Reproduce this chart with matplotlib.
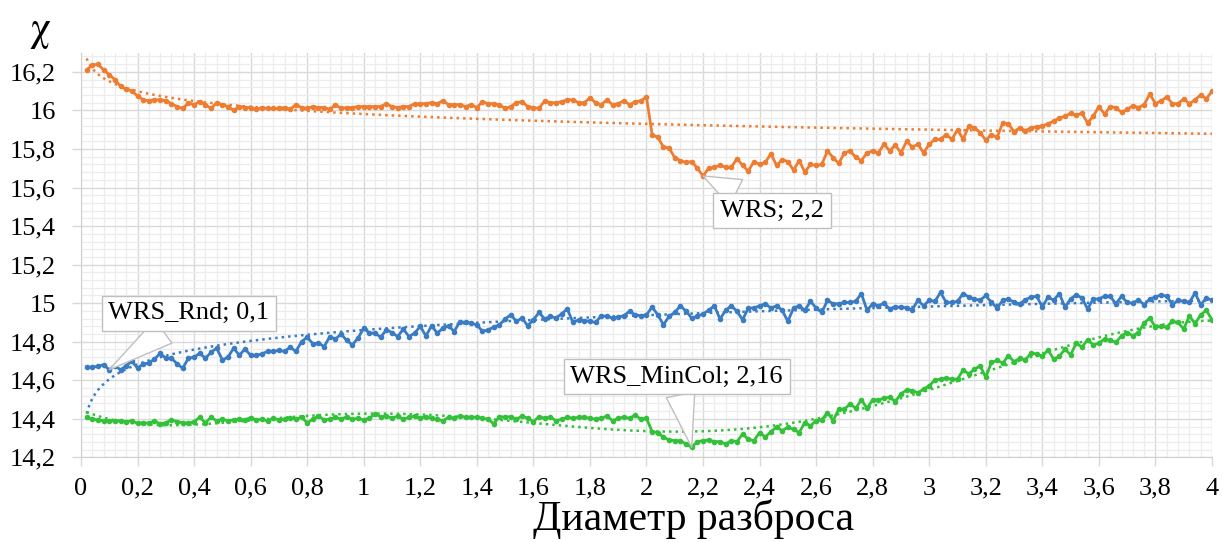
import numpy as np
import matplotlib
matplotlib.use("Agg")
import matplotlib.pyplot as plt
from matplotlib.ticker import MultipleLocator, FixedLocator
from matplotlib import font_manager

# ---------------- data ----------------
x_vals = [round(0.02 * i, 2) for i in range(1, 201)]

wrs = [
    16.21, 16.235, 16.24, 16.21, 16.185, 16.16, 16.125, 16.11, 16.10, 16.075,
    16.055, 16.05, 16.055, 16.055, 16.05, 16.035, 16.02, 16.01, 16.04, 16.03,
    16.045, 16.03, 16.01, 16.04, 16.03, 16.02, 16.0, 16.02, 16.015, 16.015,
    16.005, 16.015, 16.01, 16.01, 16.01, 16.015, 16.005, 16.03, 16.015, 16.01,
    16.02, 16.015, 16.015, 16.005, 16.03, 16.01, 16.015, 16.015, 16.02, 16.02,
    16.02, 16.02, 16.02, 16.035, 16.02, 16.015, 16.02, 16.02, 16.035, 16.035,
    16.035, 16.04, 16.035, 16.05, 16.03, 16.03, 16.03, 16.02, 16.03, 16.015,
    16.045, 16.035, 16.035, 16.03, 16.01, 16.02, 16.04, 16.045, 16.02, 16.015,
    16.01, 16.05, 16.04, 16.04, 16.045, 16.055, 16.055, 16.04, 16.04, 16.065,
    16.04, 16.03, 16.055, 16.03, 16.035, 16.05, 16.03, 16.045, 16.05, 16.07,
    15.875, 15.86, 15.81, 15.805, 15.755, 15.74, 15.73, 15.735, 15.70, 15.66,
    15.70, 15.705, 15.715, 15.705, 15.705, 15.75, 15.715, 15.685, 15.735, 15.72,
    15.73, 15.775, 15.715, 15.745, 15.735, 15.69, 15.74, 15.68, 15.72, 15.715,
    15.72, 15.79, 15.755, 15.725, 15.78, 15.79, 15.757, 15.74, 15.78, 15.79,
    15.78, 15.825, 15.79, 15.82, 15.78, 15.84, 15.81, 15.825, 15.78, 15.825,
    15.85, 15.85, 15.875, 15.85, 15.90, 15.85, 15.92, 15.91, 15.885, 15.845,
    15.875, 15.86, 15.935, 15.93, 15.89, 15.91, 15.895, 15.91, 15.915, 15.92,
    15.93, 15.945, 15.96, 15.97, 15.985, 15.975, 15.985, 15.935, 15.97, 16.02,
    15.98, 16.02, 16.015, 15.99, 16.005, 16.025, 16.015, 16.03, 16.085, 16.035,
    16.05, 16.07, 16.035, 16.035, 16.06, 16.035, 16.055, 16.08, 16.06, 16.10,
]

wrs_rnd = [
    14.667, 14.667, 14.675, 14.68, 14.655, 14.675, 14.655, 14.675, 14.70, 14.663,
    14.685, 14.69, 14.71, 14.74, 14.715, 14.715, 14.685, 14.663, 14.715, 14.72,
    14.74, 14.715, 14.745, 14.767, 14.706, 14.72, 14.767, 14.73, 14.762, 14.73,
    14.73, 14.737, 14.75, 14.75, 14.755, 14.75, 14.772, 14.75, 14.80, 14.824,
    14.79, 14.793, 14.775, 14.827, 14.814, 14.84, 14.807, 14.784, 14.82, 14.87,
    14.845, 14.845, 14.824, 14.862, 14.848, 14.827, 14.866, 14.827, 14.845, 14.88,
    14.83, 14.883, 14.845, 14.87, 14.883, 14.853, 14.905, 14.90, 14.897, 14.888,
    14.854, 14.862, 14.876, 14.888, 14.918, 14.94, 14.906, 14.923, 14.883, 14.914,
    14.952, 14.918, 14.932, 14.923, 14.945, 14.97, 14.90, 14.914, 14.91, 14.906,
    14.90, 14.935, 14.932, 14.923, 14.928, 14.935, 14.958, 14.94, 14.935, 14.94,
    14.98, 14.94, 14.888, 14.932, 14.952, 14.987, 14.958, 14.923, 14.932, 14.945,
    14.963, 14.987, 14.918, 14.963, 14.987, 14.958, 14.914, 14.975, 14.975, 14.987,
    14.997, 14.975, 14.987, 14.963, 14.906, 14.975, 14.987, 14.963, 15.01, 14.975,
    14.952, 15.015, 14.997, 14.997, 15.004, 15.004, 15.01, 15.05, 14.963, 14.997,
    14.987, 15.0, 14.97, 14.98, 14.98, 14.975, 14.966, 15.015, 14.987, 15.015,
    15.01, 15.056, 15.004, 15.004, 15.01, 15.05, 15.032, 15.022, 15.015, 15.04,
    15.004, 14.975, 15.015, 15.022, 15.004, 14.997, 15.018, 15.032, 15.036, 14.98,
    15.032, 15.015, 15.05, 14.98, 15.022, 15.044, 15.027, 14.97, 15.022, 15.022,
    15.036, 15.036, 14.997, 15.036, 15.004, 15.0, 15.018, 14.992, 15.022, 15.032,
    15.044, 15.036, 14.992, 15.015, 15.01, 15.004, 15.053, 14.992, 15.027, 15.015,
]

wrs_mincol = [
    14.408, 14.398, 14.395, 14.39, 14.39, 14.39, 14.39, 14.386, 14.39, 14.377,
    14.38, 14.377, 14.39, 14.374, 14.38, 14.395, 14.386, 14.38, 14.377, 14.386,
    14.408, 14.38, 14.408, 14.39, 14.398, 14.39, 14.395, 14.398, 14.395, 14.407,
    14.395, 14.398, 14.39, 14.403, 14.395, 14.398, 14.403, 14.398, 14.408, 14.38,
    14.398, 14.415, 14.395, 14.398, 14.408, 14.398, 14.412, 14.398, 14.403, 14.395,
    14.403, 14.426, 14.412, 14.415, 14.403, 14.415, 14.398, 14.408, 14.415, 14.403,
    14.412, 14.403, 14.398, 14.39, 14.408, 14.403, 14.415, 14.408, 14.409, 14.409,
    14.403, 14.398, 14.374, 14.412, 14.409, 14.412, 14.398, 14.415, 14.403, 14.386,
    14.412, 14.403, 14.409, 14.391, 14.398, 14.409, 14.403, 14.409, 14.409, 14.403,
    14.398, 14.403, 14.415, 14.391, 14.403, 14.409, 14.403, 14.42, 14.398, 14.403,
    14.334, 14.329, 14.305, 14.291, 14.287, 14.287, 14.27, 14.253, 14.282, 14.287,
    14.291, 14.282, 14.282, 14.27, 14.287, 14.282, 14.322, 14.294, 14.287, 14.329,
    14.305, 14.334, 14.357, 14.339, 14.357, 14.346, 14.329, 14.381, 14.364, 14.391,
    14.395, 14.433, 14.391, 14.45, 14.45, 14.478, 14.455, 14.499, 14.455, 14.499,
    14.499, 14.507, 14.512, 14.49, 14.53, 14.55, 14.547, 14.536, 14.554, 14.571,
    14.602, 14.606, 14.611, 14.606, 14.606, 14.654, 14.633, 14.658, 14.675, 14.616,
    14.693, 14.703, 14.69, 14.727, 14.697, 14.714, 14.706, 14.741, 14.737, 14.724,
    14.758, 14.71, 14.724, 14.762, 14.732, 14.793, 14.772, 14.81, 14.784, 14.793,
    14.814, 14.807, 14.797, 14.831, 14.848, 14.831, 14.848, 14.897, 14.923, 14.876,
    14.88, 14.876, 14.906, 14.90, 14.866, 14.935, 14.893, 14.94, 14.963, 14.914,
]

series_names = ["WRS", "WRS_Rnd", "WRS_MinCol"]
series_colors = ["#ED7D31", "#3A7CC3", "#34C13A"]
trend_kinds = ["log", "log", "poly6"]

# callouts: (series index, x of labelled point, label-box centre x, y)
callouts = [(0, 2.2, 2.444, 15.48), (1, 0.1, 0.382, 14.948), (2, 2.16, 2.107, 14.619)]

x_ticks = [round(0.2 * i, 1) for i in range(21)]
y_ticks = [round(14.2 + 0.2 * i, 1) for i in range(11)]

# ---------------- plot ----------------
serif_name = "DejaVu Serif"
for cand in ["Liberation Serif", "Times New Roman", "Nimbus Roman", "DejaVu Serif"]:
    try:
        font_manager.findfont(font_manager.FontProperties(family=cand), fallback_to_default=False)
        serif_name = cand
        break
    except Exception:
        continue
plt.rcParams["font.family"] = "serif"
plt.rcParams["font.serif"] = [serif_name, "DejaVu Serif"]

fig = plt.figure(figsize=(12.23, 5.42), dpi=100)
ax = fig.add_axes([0.0662, 0.156, 0.9248, 0.747])

x = np.array(x_vals)
all_y = [np.array(wrs), np.array(wrs_rnd), np.array(wrs_mincol)]

xs = np.linspace(x.min(), x.max(), 600)
for y, c, kind in zip(all_y, series_colors, trend_kinds):
    ax.plot(x, y, color=c, lw=2.0, marker="o", ms=3.0, zorder=4)
    if kind == "log":
        b, a = np.polyfit(np.log(x), y, 1)
        ty = a + b * np.log(xs)
    else:
        coef = np.polyfit(x, y, 6)
        ty = np.polyval(coef, xs)
    ax.plot(xs, ty, color=c, lw=1.8, ls=(0, (1, 1.6)), zorder=3)

for si, px, tx, ty in callouts:
    idx = int(np.argmin(np.abs(x - px)))
    py = all_y[si][idx]
    lab = f"{series_names[si]}; {('%g' % x[idx]).replace('.', ',')}"
    ax.annotate(lab, xy=(x[idx], py), xytext=(tx, ty), textcoords="data",
                ha="center", va="center", fontsize=19, zorder=6,
                bbox=dict(boxstyle="square,pad=0.25", fc="white", ec="#bfbfbf", lw=1),
                arrowprops=dict(arrowstyle="wedge,tail_width=1.1,shrink_factor=0.5",
                                fc="white", ec="#bfbfbf", lw=1, shrinkA=0, shrinkB=0))

ax.set_xlim(0, 4)
ax.set_ylim(14.2, 16.3)
ax.xaxis.set_major_locator(FixedLocator(x_ticks))
ax.yaxis.set_major_locator(FixedLocator(y_ticks))
ax.xaxis.set_minor_locator(MultipleLocator(0.04))
ax.yaxis.set_minor_locator(MultipleLocator(0.04))
ax.set_xticklabels([("%g" % v).replace(".", ",") for v in x_ticks], fontsize=19)
ax.set_yticklabels([("%g" % v).replace(".", ",") for v in y_ticks], fontsize=19)
ax.tick_params(axis="both", which="major", length=6.5, color="#d9d9d9", width=1)
ax.tick_params(axis="x", which="major", pad=8)
ax.tick_params(axis="y", which="major", pad=11.5)
ax.tick_params(axis="both", which="minor", length=0)

ax.grid(which="major", color="#d9d9d9", lw=1.0, zorder=0)
ax.grid(which="minor", color="#ececec", lw=0.9, zorder=0)
ax.set_axisbelow(True)

for s in ["top", "right"]:
    ax.spines[s].set_visible(False)
for s in ["left", "bottom"]:
    ax.spines[s].set_color("#d0d0d0")

ax.set_xlabel("Диаметр разброса", fontsize=30)
ax.xaxis.set_label_coords(0.542, -0.103)
fig.text(0.033, 0.945, "χ", fontsize=30, ha="center", va="center",
         family=["STIXGeneral", serif_name, "DejaVu Serif"])

fig.savefig("out.png", dpi=100)
